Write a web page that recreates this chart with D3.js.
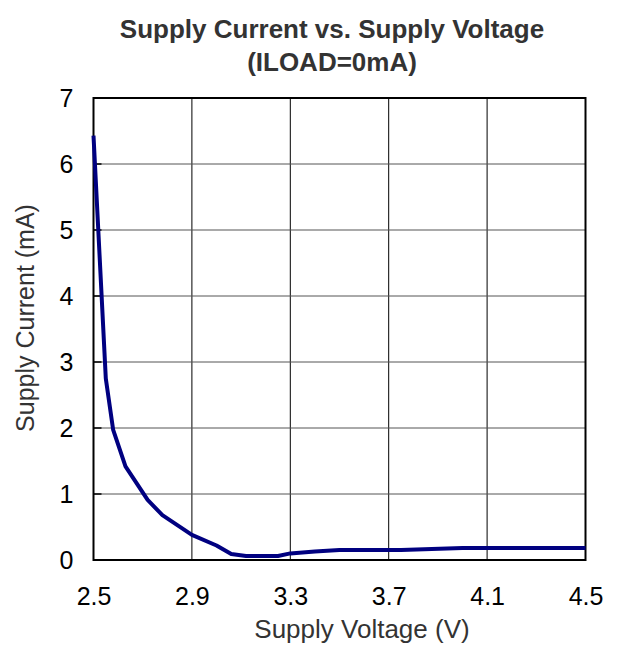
<!DOCTYPE html>
<html><head><meta charset="utf-8">
<script src="https://cdn.jsdelivr.net/npm/d3@7"></script>
<style>body{margin:0;background:#fff}svg{display:block}text{font-family:"Liberation Sans",Arial,sans-serif}</style>
</head><body>
<script>
const voltage = [2.5, 2.55, 2.58, 2.63, 2.72, 2.78, 2.9, 3.0, 3.06, 3.12, 3.25, 3.3, 3.4, 3.5, 3.75, 4.0, 4.5];
const current = [6.43, 2.75, 1.97, 1.42, 0.91, 0.68, 0.38, 0.22, 0.09, 0.06, 0.06, 0.10, 0.13, 0.15, 0.15, 0.18, 0.18];
const xTicks = [2.5, 2.9, 3.3, 3.7, 4.1, 4.5];
const yTicks = [0, 1, 2, 3, 4, 5, 6, 7];
const titleLines = ["Supply Current vs. Supply Voltage", "(ILOAD=0mA)"];
const xLabel = "Supply Voltage (V)";
const yLabel = "Supply Current (mA)";

const W = 617, H = 651;
const m = {left: 93.5, right: 31.5, top: 98, bottom: 91};
const font = '"Liberation Sans",Arial,sans-serif';
const svg = d3.select("body").append("svg").attr("width", W).attr("height", H);
const x = d3.scaleLinear().domain([2.5, 4.5]).range([m.left, W - m.right]);
const y = d3.scaleLinear().domain([0, 7]).range([H - m.bottom, m.top]);

// grid
svg.append("g").selectAll("line").data(xTicks.slice(1, -1)).join("line")
  .attr("x1", d => x(d)).attr("x2", d => x(d)).attr("y1", y(7)).attr("y2", y(0))
  .attr("stroke", "#000").attr("stroke-width", 1);
svg.append("g").selectAll("line").data(yTicks.slice(1, -1)).join("line")
  .attr("x1", x(2.5)).attr("x2", x(4.5)).attr("y1", d => y(d)).attr("y2", d => y(d))
  .attr("stroke", "#555").attr("stroke-width", 1);

// inner ticks on left axis
svg.append("g").selectAll("line").data(yTicks).join("line")
  .attr("x1", x(2.5)).attr("x2", x(2.5) + 8).attr("y1", d => y(d)).attr("y2", d => y(d))
  .attr("stroke", "#000").attr("stroke-width", 1.5);

// frame
svg.append("rect").attr("x", x(2.5)).attr("y", y(7)).attr("width", x(4.5) - x(2.5)).attr("height", y(0) - y(7))
  .attr("fill", "none").attr("stroke", "#000").attr("stroke-width", 2);

// axes labels
const xAxis = d3.axisBottom(x).tickValues(xTicks).tickFormat(d3.format(".1f")).tickSize(0).tickPadding(27);
const gx = svg.append("g").attr("transform", `translate(0,${y(0)})`).call(xAxis);
gx.select(".domain").remove();
gx.selectAll("text").attr("font-size", 25).attr("fill", "#000").style("font-family", font);

const yAxis = d3.axisLeft(y).tickValues(yTicks).tickFormat(d3.format("d")).tickSize(0).tickPadding(20);
const gy = svg.append("g").attr("transform", `translate(${x(2.5)},0)`).call(yAxis);
gy.select(".domain").remove();
gy.selectAll("text").attr("font-size", 25).attr("fill", "#000").style("font-family", font);

// line
const data = voltage.map((v, i) => [v, current[i]]);
svg.append("path").datum(data)
  .attr("d", d3.line().x(d => x(d[0])).y(d => y(d[1])))
  .attr("fill", "none").attr("stroke", "#000080").attr("stroke-width", 4)
  .attr("stroke-linejoin", "round");

// title
svg.append("text").attr("x", 332).attr("y", 37.5).attr("text-anchor", "middle")
  .attr("font-size", 26).attr("font-weight", "bold").attr("fill", "#333").text(titleLines[0]);
svg.append("text").attr("x", 332).attr("y", 71).attr("text-anchor", "middle")
  .attr("font-size", 26).attr("font-weight", "bold").attr("fill", "#333").text(titleLines[1]);

svg.append("text").attr("x", 362).attr("y", 638).attr("text-anchor", "middle")
  .attr("font-size", 26).attr("fill", "#333").text(xLabel);
svg.append("text").attr("transform", `translate(34,${(y(0) + y(7)) / 2 - 11}) rotate(-90)`).attr("text-anchor", "middle")
  .attr("font-size", 25).attr("fill", "#333").text(yLabel);
</script>
</body></html>
